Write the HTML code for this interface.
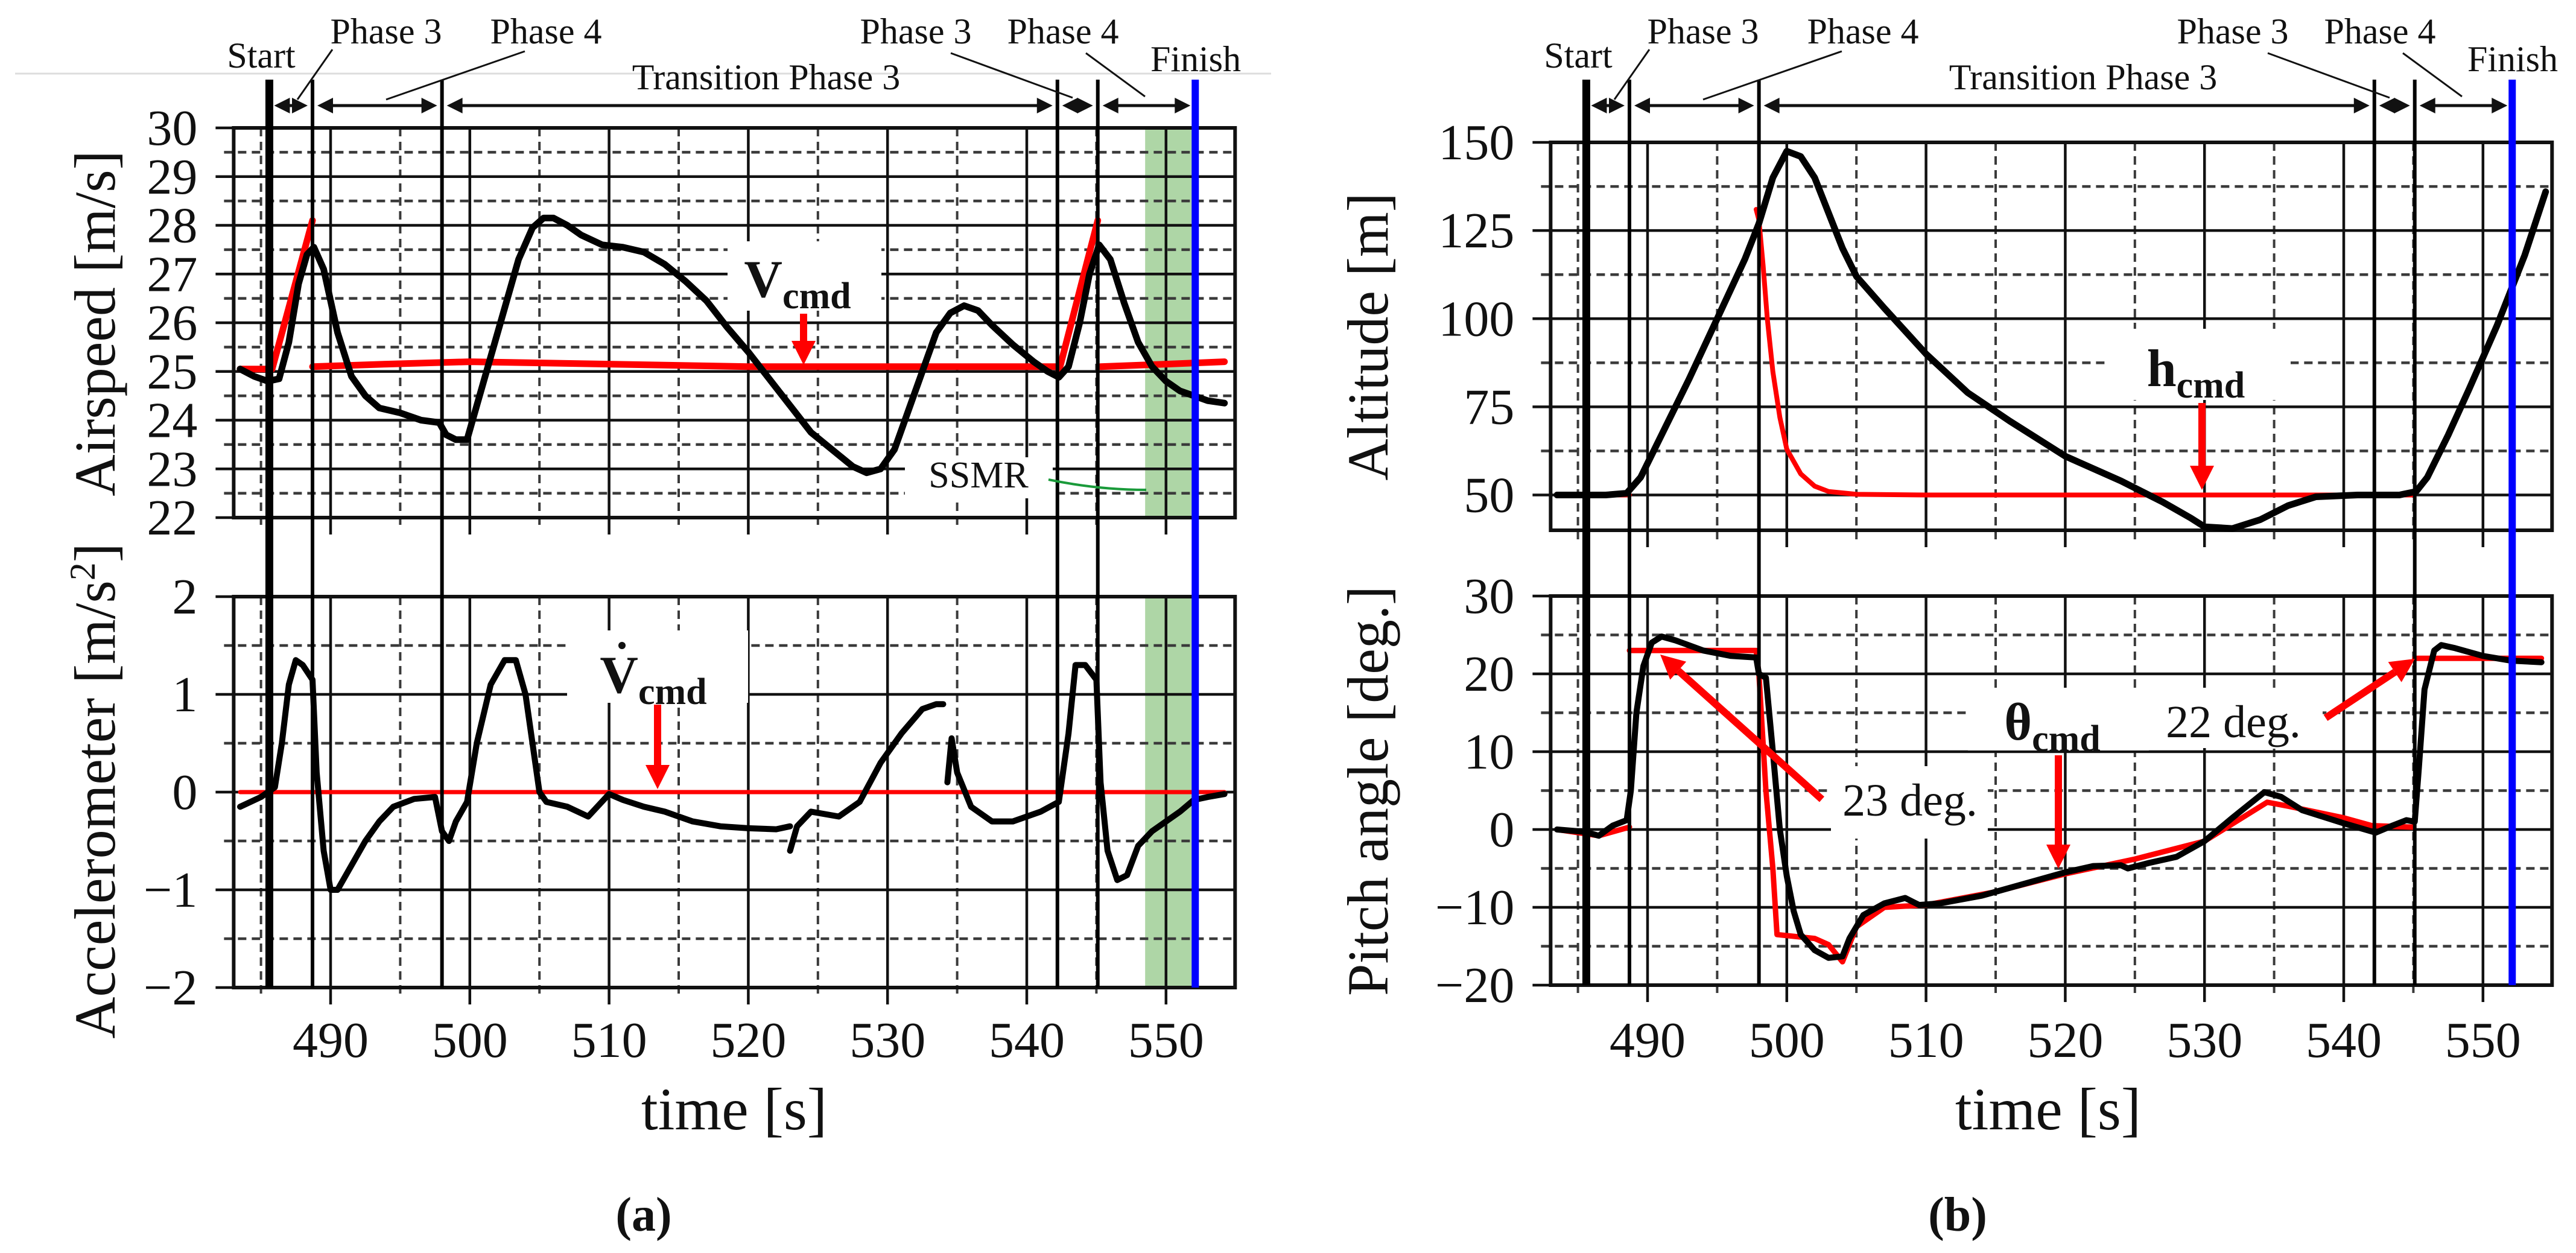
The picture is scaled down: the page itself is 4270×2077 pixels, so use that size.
<!DOCTYPE html>
<html><head><meta charset="utf-8"><style>
html,body{margin:0;padding:0;background:#fff;}
svg{display:block;font-family:"Liberation Serif","DejaVu Serif",serif;}
</style></head><body>
<svg id="fig" width="4270" height="2077" viewBox="0 0 4270 2077" xmlns="http://www.w3.org/2000/svg"></svg>
<script>
// ---------- data ----------
const airT=[483.5,484.5,485.5,486.3,487,487.7,488.3,488.8,489.5,490.5,491.5,492.5,493.5,495,496.5,497.8,498.3,499,499.8,500.5,501.5,502.5,503.5,504.5,505.3,506,507,508,509.5,511,512.5,514,515.5,517,518.5,520,521.5,523,524.5,526,527.5,528.5,529.5,530.5,531.5,532.5,533.5,534.5,535.5,536.5,537.5,539,540.5,541.5,542.3,543,543.8,544.5,545.2,546,547,548,549,550,551,552,553,554.2];
const airV=[25.05,24.9,24.8,24.85,25.6,26.8,27.4,27.55,27.1,25.8,24.9,24.5,24.25,24.15,24.0,23.95,23.7,23.6,23.6,24.3,25.3,26.3,27.3,27.95,28.15,28.15,28.0,27.8,27.6,27.55,27.45,27.2,26.85,26.45,25.9,25.4,24.85,24.3,23.75,23.4,23.05,22.92,23.0,23.4,24.2,25.0,25.8,26.2,26.35,26.25,25.95,25.55,25.2,25.0,24.88,25.1,26.0,27.0,27.6,27.3,26.4,25.6,25.1,24.8,24.6,24.5,24.4,24.35];
const airCmdT=[483.5,485.8,null,485.8,488.7,null,488.7,494,500,510,520,530,542.3,null,542.3,545.1,null,545.3,550,554.2];
const airCmdV=[25.05,25.05,null,25.05,28.1,null,25.1,25.15,25.2,25.15,25.1,25.1,25.1,null,25.0,28.1,null,25.1,25.15,25.2];
const accT=[483.5,485,486,486.5,487,487.5,488,488.7,489,489.5,490,490.5,491.5,492.5,493.5,494.5,496,497.5,498,498.5,499,499.8,500.5,501.5,502.5,503.3,504,505,505.5,507,508.5,510,511,512.5,514,516,518,520,522,523,null,523,523.5,524.5,526.5,528,529.5,531,532.5,533.5,534,null,534.3,534.6,535,536,537.5,539,541,542.3,543,543.5,544.2,545,545.3,545.8,546.5,547.2,548,549,550,551,552,553,554.2];
const accV=[-0.15,-0.05,0.05,0.5,1.1,1.35,1.3,1.15,0.2,-0.6,-1.0,-1.0,-0.75,-0.5,-0.3,-0.15,-0.07,-0.05,-0.4,-0.5,-0.3,-0.1,0.5,1.1,1.35,1.35,1.0,0.0,-0.1,-0.15,-0.25,-0.02,-0.08,-0.15,-0.2,-0.3,-0.35,-0.37,-0.38,-0.35,null,-0.6,-0.35,-0.2,-0.25,-0.1,0.3,0.6,0.85,0.9,0.9,null,0.1,0.55,0.2,-0.15,-0.3,-0.3,-0.2,-0.1,0.6,1.3,1.3,1.15,0.1,-0.6,-0.9,-0.85,-0.55,-0.4,-0.3,-0.2,-0.08,-0.05,-0.02];
const accCmdT=[483.5,554.2];
const accCmdV=[0,0];
const altT=[483.5,487,488.5,489.5,491,493,495,497,498,499,500,501,502,503,504,505,507,510,513,516,520,524,527,529,530,532,534,536,538,541,544,545.2,546,547.5,549,551,553,554.5];
const altV=[50,50,50.5,55,67,83,100,117,127,140,147.5,146,140,130,120,112,103,90,79,71,61,54,48,43.5,41,40.5,43,47,49.5,50,50,51,55,67,80,98,118,136];
const altCmdT=[483.5,488.7,null,497.8,498,498.3,498.6,499,499.5,500,501,502,503,505,510,520,530,540,545];
const altCmdV=[50,50,null,131,128,115,100,85,72,63,56,52.5,51,50.2,50,50,50,50,50];
const pitT=[483.5,485.5,486.5,487.5,488.5,488.8,489.2,489.7,490.3,491,492,494,496,497.8,498,498.5,499,499.5,500,500.5,501,502,503,504,504.5,505.5,507,508.5,509.5,511,514,517,520,522,524,524.5,526,528,530,532,534.3,535.5,537,540,542.3,543.5,544.5,545.1,545.4,545.8,546.5,547,548,550,552,554.2];
const pitV=[0,-0.3,-0.8,0.5,1.2,5,15,21,24,24.8,24.3,23,22.3,22.1,20,19.5,10,0,-6,-10.5,-13.5,-15.5,-16.5,-16.3,-14,-11,-9.5,-8.8,-9.7,-9.5,-8.5,-7,-5.5,-4.7,-4.6,-5,-4.3,-3.5,-1.5,1.5,4.8,4.2,2.5,0.8,-0.4,0.5,1.2,1,8,18,23,23.7,23.3,22.3,21.7,21.5];
const pitCmdT=[483.5,486.5,488.7,null,488.7,497.8,498,498.5,499,499.3,502,503,504,505,507,510,515,520,525,530,534.5,536,540,542,545,null,545.1,554.2];
const pitCmdV=[0,-0.8,0.3,null,23,23,20,5,-5,-13.5,-14,-14.8,-17,-12.5,-10,-9.7,-8,-5.7,-3.8,-1.5,3.5,3.0,1.5,0.5,0.3,null,22,22];
const phaseTimes=[485.6,488.7,498.0,542.2,545.1];
const finishTime=552.1;
const ssmrStart=548.5;
const xTicks=[490,500,510,520,530,540,550];
const airTicks=[22,23,24,25,26,27,28,29,30];
const accTicks=[-2,-1,0,1,2];
const altTicks=[50,75,100,125,150];
const pitTicks=[-20,-10,0,10,20,30];

// ---------- helpers ----------
const NS='http://www.w3.org/2000/svg';
const svg=document.getElementById('fig');
function mk(tag,attrs,parent){const e=document.createElementNS(NS,tag);for(const k in attrs)e.setAttribute(k,attrs[k]);(parent||svg).appendChild(e);return e;}
const T0=483.04,T1=554.96;
function xScale(X490){return t=>X490+(t-490)*23.08;}
function yScale(v0,v1,p0,p1){return v=>p0+(v-v0)*(p1-p0)/(v1-v0);}
function pathD(ts,vs,xs,ys){let d='',pen=false;for(let i=0;i<ts.length;i++){if(ts[i]===null||vs[i]===null){pen=false;continue;}d+=(pen?'L':'M')+xs(ts[i]).toFixed(1)+' '+ys(vs[i]).toFixed(1);pen=true;}return d;}

function axes(xs,ys,y0v,y1v,yt,minorStep,top,bottom,name){
  const L=xs(T0),R=xs(T1);
  const g=mk('g',{});
  
  
  // dashed minor grid (midway between major ticks)
  for(let v=yt[0]-minorStep;v<y1v;v+=2*minorStep){
    if(v<=y0v) continue;
    const l=mk('line',{x1:L-16,x2:R,y1:ys(v),y2:ys(v),stroke:'#3a3a3a','stroke-width':4.5,'stroke-dasharray':'14 9'},g);
    
    
  }
  for(let t=485;t<555;t+=10){
    const l=mk('line',{x1:xs(t),x2:xs(t),y1:top,y2:bottom+16,stroke:'#3a3a3a','stroke-width':4,'stroke-dasharray':'14 9'},g);
    
    
  }
  yt.forEach(v=>{
    const l=mk('line',{x1:L-30,x2:R,y1:ys(v),y2:ys(v),stroke:'#111','stroke-width':4.5},g);
    
    
    const tx=mk('text',{x:L-60,y:ys(v)+28,'text-anchor':'end','font-size':84,fill:'#111'},g);
    tx.textContent=(v<0?'\u2212':'')+Math.abs(v);
    
    
  });
  xTicks.forEach(t=>{
    const l=mk('line',{x1:xs(t),x2:xs(t),y1:top,y2:bottom+28,stroke:'#111','stroke-width':4.5},g);
    
    
  });
  const f=mk('rect',{x:L,y:top,width:R-L,height:bottom-top,fill:'none',stroke:'#111','stroke-width':6},g);
  
  
}
function xLabels(xs,baseY){
  xTicks.forEach(t=>{
    const tx=mk('text',{x:xs(t),y:baseY,'text-anchor':'middle','font-size':84,fill:'#111'});
    tx.textContent=t;
    
    
  });
}
function series(ts,vs,xs,ys,color,w,name){
  const p=mk('path',{d:pathD(ts,vs,xs,ys),fill:'none',stroke:color,'stroke-width':w,'stroke-linejoin':'round','stroke-linecap':'round'});
  
  
}
function ylabel(txt,cx,cy,name,sup){
  const tx=mk('text',{x:0,y:0,transform:`translate(${cx},${cy}) rotate(-90)`,'text-anchor':'middle','font-size':96,fill:'#111'});
  tx.textContent=txt;
  if(sup){const s=mk('tspan',{'baseline-shift':'super','font-size':60},tx);s.textContent='2';const e=mk('tspan',{},tx);e.textContent=']';}
  
  
}
function text(str,x,y,size,name,anchor){
  const tx=mk('text',{x:x,y:y,'text-anchor':anchor||'middle','font-size':size,fill:'#111'});
  tx.textContent=str;
  
  
  return tx;
}
function whiteBox(x,y,w,h,name){
  const r=mk('rect',{x:x,y:y,width:w,height:h,fill:'#fff'});
  
  
}
function cmdLabel(sym,x,y,name,dot){
  const tx=mk('text',{x:x,y:y,'text-anchor':'middle','font-size':88,'font-weight':'bold',fill:'#111'});
  tx.textContent=sym;
  const s=mk('tspan',{'baseline-shift':'-30%','font-size':62},tx);s.textContent='cmd';
  
  
  if(dot){const d=mk('circle',{cx:x-52,cy:y-78,r:6,fill:'#111'});}
}
function redArrow(x1,y1,x2,y2,name){
  const g=mk('g',{});
  
  
  const a=Math.atan2(y2-y1,x2-x1),hl=40,hw=20;
  const bx=x2-hl*Math.cos(a),by=y2-hl*Math.sin(a);
  mk('line',{x1:x1,y1:y1,x2:bx,y2:by,stroke:'#f00','stroke-width':12},g);
  mk('polygon',{points:`${x2},${y2} ${bx+hw*Math.sin(a)},${by-hw*Math.cos(a)} ${bx-hw*Math.sin(a)},${by+hw*Math.cos(a)}`,fill:'#f00'},g);
}
function phaseRow(xs,lineTop,lineBottom,arrowY,panel){
  const times=phaseTimes.concat([finishTime]);
  for(let i=0;i<times.length-1;i++){
    const a=xs(times[i])+8,b=xs(times[i+1])-8;
    const g=mk('g',{});
    
    
    mk('line',{x1:a+20,x2:b-20,y1:arrowY,y2:arrowY,stroke:'#111','stroke-width':5},g);
    mk('polygon',{points:`${a},${arrowY} ${a+26},${arrowY-13} ${a+26},${arrowY+13}`,fill:'#111'},g);
    mk('polygon',{points:`${b},${arrowY} ${b-26},${arrowY-13} ${b-26},${arrowY+13}`,fill:'#111'},g);
  }
  const widths=[13,6,6,6,6];
  phaseTimes.forEach((t,i)=>{
    const l=mk('line',{x1:xs(t),x2:xs(t),y1:lineTop,y2:lineBottom,stroke:'#000','stroke-width':widths[i]});
    
    
  });
  const bl=mk('line',{x1:xs(finishTime),x2:xs(finishTime),y1:lineTop,y2:lineBottom,stroke:'#0000ff','stroke-width':12});
  
  
  const o=xs(490)-548;
  text('Start',433+o,112,60,'start-label');
  text('Phase 3',640+o,72,60,'phase3-label');
  text('Phase 4',905+o,72,60,'phase4-label');
  text('Transition Phase 3',1270+o,148,60,'transition-phase3-label');
  text('Phase 3',1518+o,72,60,'phase3-label-2');
  text('Phase 4',1762+o,72,60,'phase4-label-2');
  text('Finish',1982+o,118,60,'finish-label');
  const leaders=[[551,82,493,165],[870,85,640,165],[1576,88,1778,162],[1800,88,1898,160]];
  leaders.forEach(p=>{
    const l=mk('line',{x1:p[0]+o,y1:p[1],x2:p[2]+o,y2:p[3],stroke:'#111','stroke-width':3});
    
    
  });
}

// ---------- panel (a) ----------
const xa=xScale(548);
const yAir=yScale(30,22,212,858);
const yAcc=yScale(2,-2,989,1637);
const gl=mk('line',{x1:25,x2:2107,y1:122,y2:122,stroke:'#ddd','stroke-width':3});


[[212,858],[989,1637]].forEach(r=>{
  const b=mk('rect',{x:xa(ssmrStart),y:r[0],width:xa(finishTime)-xa(ssmrStart),height:r[1]-r[0],fill:'#aed6a6'});
  
  
});
axes(xa,yAir,22,30,airTicks,0.5,212,858,'airspeed');
axes(xa,yAcc,-2,2,accTicks,0.5,989,1637,'accelerometer');
whiteBox(1206,400,255,115,'vcmd-label-box');
whiteBox(940,1045,300,120,'vdotcmd-label-box');
whiteBox(1500,758,245,68,'ssmr-label-box');
series(airCmdT,airCmdV,xa,yAir,'#ff0000',11,'airspeed-command-series');
series(airT,airV,xa,yAir,'#000',11,'airspeed-series');
series(accCmdT,accCmdV,xa,yAcc,'#ff0000',7,'accel-command-series');
series(accT,accV,xa,yAcc,'#000',10,'accelerometer-series');
phaseRow(xa,132,1637,175,'a');
xLabels(xa,1752);
ylabel('Airspeed [m/s]',190,536,'airspeed-y-axis-title');
ylabel('Accelerometer [m/s',190,1311,'accelerometer-y-axis-title',true);
text('time [s]',1217,1872,100,'x-axis-title-a');
const la=text('(a)',1067,2040,80,'panel-a-caption');la.setAttribute('font-weight','bold');
cmdLabel('V',1322,492,'vcmd-label');
redArrow(1332,520,1332,605,'vcmd-arrow');
cmdLabel('V',1083,1148,'vdotcmd-label',true);
redArrow(1090,1168,1090,1308,'vdotcmd-arrow');
text('SSMR',1622,808,62,'ssmr-label');
const gr=mk('path',{d:'M1738 795 Q1820 812 1900 812',fill:'none',stroke:'#1a9a3a','stroke-width':4});



// ---------- panel (b) ----------
const xb=xScale(2731);
const yAlt=yScale(150,40,236,879);
const yPit=yScale(30,-20,988,1633);
axes(xb,yAlt,40,150,altTicks,12.5,236,879,'altitude');
axes(xb,yPit,-20,30,pitTicks,5,988,1633,'pitch');
whiteBox(3497,545,300,118,'hcmd-label-box');
whiteBox(3262,1140,300,104,'thetacmd-label-box');
whiteBox(3560,1140,290,100,'22deg-label-box');
whiteBox(3035,1270,260,120,'23deg-label-box');
series(altCmdT,altCmdV,xb,yAlt,'#ff0000',8,'altitude-command-series');
series(altT,altV,xb,yAlt,'#000',11,'altitude-series');
series(pitCmdT,pitCmdV,xb,yPit,'#ff0000',9,'pitch-command-series');
series(pitT,pitV,xb,yPit,'#000',10,'pitch-series');
phaseRow(xb,132,1633,175,'b');
xLabels(xb,1752);
ylabel('Altitude [m]',2300,558,'altitude-y-axis-title');
ylabel('Pitch angle [deg.]',2300,1311,'pitch-y-axis-title');
text('time [s]',3395,1872,100,'x-axis-title-b');
const lb=text('(b)',3245,2040,80,'panel-b-caption');lb.setAttribute('font-weight','bold');
cmdLabel('h',3640,640,'hcmd-label');
redArrow(3650,668,3650,812,'hcmd-arrow');
cmdLabel('\u03b8',3402,1226,'thetacmd-label');
redArrow(3412,1252,3412,1440,'thetacmd-arrow');
text('22 deg.',3702,1222,76,'22deg-label');
redArrow(3855,1190,4003,1092,'22deg-arrow');
text('23 deg.',3166,1352,76,'23deg-label');
redArrow(3020,1325,2752,1085,'23deg-arrow');
</script>
</body></html>
